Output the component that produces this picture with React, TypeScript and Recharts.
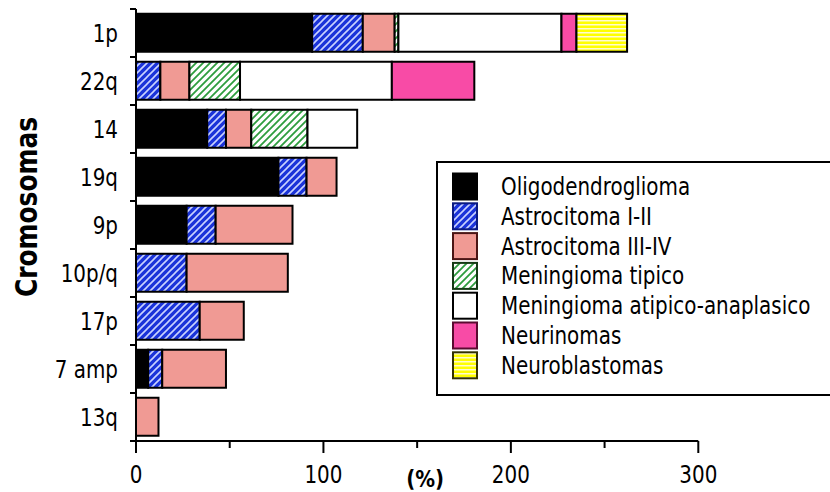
import React from 'react';
import { BarChart, Bar, XAxis, YAxis, Legend } from 'recharts';

// ---------- data ----------
const categories = ['1p', '22q', '14', '19q', '9p', '10p/q', '17p', '7 amp', '13q'];
const oligodendroglioma = [94, 0, 38, 76, 27, 0, 0, 6.5, 0];
const astrocitomaI_II = [27, 13, 10, 15, 15.5, 27, 34, 7.5, 0];
const astrocitomaIII_IV = [17, 15.5, 13.5, 16, 41, 54, 23.5, 34, 12];
const meningiomaTipico = [2, 27, 30, 0, 0, 0, 0, 0, 0];
const meningiomaAtipico = [87, 81, 26.5, 0, 0, 0, 0, 0, 0];
const neurinomas = [8, 44, 0, 0, 0, 0, 0, 0, 0];
const neuroblastomas = [27, 0, 0, 0, 0, 0, 0, 0, 0];
const seriesNames = [
  'Oligodendroglioma',
  'Astrocitoma I-II',
  'Astrocitoma III-IV',
  'Meningioma tipico',
  'Meningioma atipico-anaplasico',
  'Neurinomas',
  'Neuroblastomas',
];
const xTicks = [0, 50, 100, 150, 200, 250, 300];
const xDomain = [0, 300];

const seriesValues = [
  oligodendroglioma,
  astrocitomaI_II,
  astrocitomaIII_IV,
  meningiomaTipico,
  meningiomaAtipico,
  neurinomas,
  neuroblastomas,
];

const data = categories.map((name, i) => {
  const row: Record<string, any> = { name };
  seriesValues.forEach((vals, s) => {
    row['s' + s] = vals[i];
  });
  return row;
});

// ---------- styles ----------
const FONT = 'DejaVu Sans';
const FS = 24;
const SX = 0.83;
const seriesFills = [
  '#000000',
  'url(#patBlue)',
  '#f09a94',
  'url(#patGreen)',
  '#ffffff',
  '#f84ba6',
  'url(#patYellow)',
];
const legendFills = [
  '#000000',
  'url(#lgBlue)',
  '#f09a94',
  'url(#lgGreen)',
  '#ffffff',
  '#f84ba6',
  'url(#lgYellow)',
];
const legendStrokes = ['#000000', '#0a1a80', '#4a1515', '#143a14', '#000000', '#5a0a30', '#333300'];

const W = 830;
const H = 492;
const MARGIN = { top: 9, right: 131.7, bottom: 0, left: 0 };
const Y_W = 136;
const X_H = 51;
const PLOT_H = H - MARGIN.top - MARGIN.bottom - X_H;
const HALF_BAND = PLOT_H / categories.length / 2;

const Patterns = ({ prefix }: { prefix: string }) => (
  <defs>
    <pattern id={prefix + 'Blue'} width={7} height={7} patternUnits="userSpaceOnUse">
      <rect width={7} height={7} fill="#1a33d9" />
      <path d="M0,7 L7,0 M-1,1 L1,-1 M6,8 L8,6" stroke="#c9d2ff" strokeWidth={1.6} />
    </pattern>
    <pattern id={prefix + 'Green'} width={7} height={7} patternUnits="userSpaceOnUse">
      <rect width={7} height={7} fill="#ffffff" />
      <path d="M0,7 L7,0 M-1,1 L1,-1 M6,8 L8,6" stroke="#2e9d3e" strokeWidth={1.8} />
    </pattern>
    <pattern id={prefix + 'Yellow'} width={4} height={4} patternUnits="userSpaceOnUse">
      <rect width={4} height={4} fill="#ffff00" />
      <rect width={4} height={1.5} fill="#fffbd0" />
    </pattern>
  </defs>
);

const YTick = (props: any) => {
  const { x, y, payload, index } = props;
  return (
    <g>
      <line x1={x - 6} x2={x} y1={y - HALF_BAND} y2={y - HALF_BAND} stroke="#000" strokeWidth={2} />
      {index === categories.length - 1 && (
        <line x1={x - 6} x2={x} y1={y + HALF_BAND} y2={y + HALF_BAND} stroke="#000" strokeWidth={2} />
      )}
      <text
        transform={`translate(${x - 18},${y + 9}) scale(${SX},1)`}
        textAnchor="end"
        fontSize={FS}
        fontFamily={FONT}
        fill="#000"
      >
        {payload.value}
      </text>
    </g>
  );
};

const XTick = (props: any) => {
  const { x, y, payload } = props;
  const major = payload.value % 100 === 0;
  return (
    <g>
      <line x1={x} x2={x} y1={y} y2={y + (major ? 12 : 7)} stroke="#000" strokeWidth={2} />
      {major && (
        <text
          transform={`translate(${x},${y + 42}) scale(${SX},1)`}
          textAnchor="middle"
          fontSize={FS}
          fontFamily={FONT}
          fill="#000"
        >
          {payload.value}
        </text>
      )}
    </g>
  );
};

const LegendBox = () => (
  <svg width={394} height={237} style={{ display: 'block' }}>
    <Patterns prefix="lg" />
    <rect x={1} y={1} width={430} height={233} fill="#fff" stroke="#000" strokeWidth={2} />
    {seriesNames.map((n, i) => {
      const c = 25.5 + i * 29.8;
      return (
        <g key={n}>
          <rect x={17} y={c - 13} width={24} height={26} fill={legendFills[i]} stroke={legendStrokes[i]} strokeWidth={2} />
          <text
            transform={`translate(65,${c + 8.5}) scale(${SX},1)`}
            fontSize={FS}
            fontFamily={FONT}
            fill="#000"
          >
            {n}
          </text>
        </g>
      );
    })}
  </svg>
);

const XLabel = (props: any) => {
  const vb = props.viewBox || { x: 136, y: 441, width: 562, height: 51 };
  return (
    <text
      transform={`translate(${vb.x + vb.width / 2 + 8},${vb.y + 46}) scale(0.86,1)`}
      textAnchor="middle"
      fontSize={23}
      fontWeight="bold"
      fontFamily={FONT}
      fill="#000"
    >
      (%)
    </text>
  );
};

const YLabel = () => (
  <text
    transform={`translate(37,207) rotate(-90) scale(0.83,1)`}
    textAnchor="middle"
    fontSize={30}
    fontWeight="bold"
    fontFamily={FONT}
    fill="#000"
  >
    Cromosomas
  </text>
);

export default function App() {
  return (
    <div>
      <style>{'body{margin:0;overflow:hidden;background:#fff}'}</style>
      <BarChart
        width={W}
        height={H}
        data={data}
        layout="vertical"
        margin={MARGIN}
        barCategoryGap="10%"
      >
        <Patterns prefix="pat" />
        <XAxis
          type="number"
          domain={xDomain}
          ticks={xTicks}
          interval={0}
          height={X_H}
          axisLine={{ stroke: '#000', strokeWidth: 2 }}
          tickLine={false}
          tickSize={0}
          tickMargin={0}
          tick={<XTick />}
          label={<XLabel />}
        />
        <YAxis
          type="category"
          dataKey="name"
          width={Y_W}
          interval={0}
          axisLine={{ stroke: '#000', strokeWidth: 2 }}
          tickLine={false}
          tickSize={0}
          tickMargin={0}
          tick={<YTick />}
          label={<YLabel />}
        />
        {seriesNames.map((n, s) => (
          <Bar
            key={n}
            dataKey={'s' + s}
            name={n}
            stackId="a"
            fill={seriesFills[s]}
            stroke="#000"
            strokeWidth={2}
            isAnimationActive={false}
          />
        ))}
        <Legend
          layout="horizontal"
          verticalAlign="middle"
          align="center"
          content={<LegendBox />}
          wrapperStyle={{ left: 436, top: 161, width: 394, height: 237 }}
        />
      </BarChart>
    </div>
  );
}
